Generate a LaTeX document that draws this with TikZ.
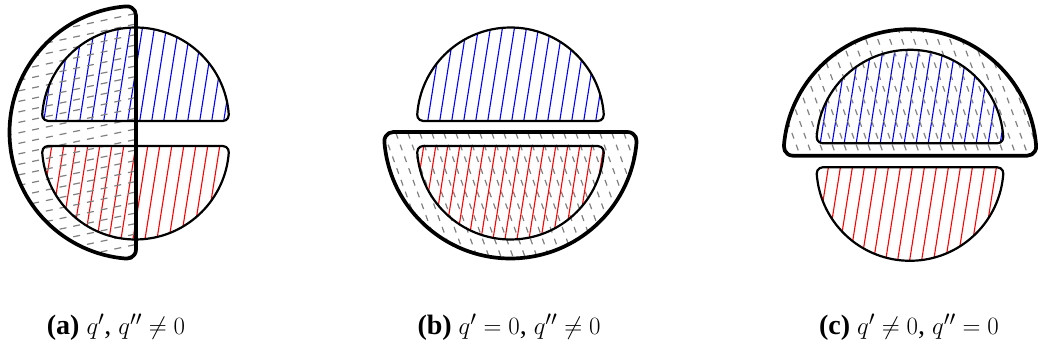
\documentclass[tikz,border=0pt]{standalone}
\usepackage{fontspec}
\setmainfont{Liberation Serif}
\tikzset{
  outlineS/.style={line width=2.2pt, line join=round},
  outlineB/.style={line width=3.7pt, line join=round},
  bluehatch/.style={blue, line width=1.1pt},
  redhatch/.style={red, line width=1.1pt},
  greyhatch/.style={gray, line width=1.2pt, dash pattern=on 6pt off 6.5pt},
  greyhatchH/.style={gray, line width=1.2pt, dash pattern=on 7pt off 7pt},
  caption/.style={anchor=base, inner sep=1pt, font=\fontsize{28}{34}\selectfont},
}
\def\smallhd{(-87.294,0) -- (87.294,0) arc[start angle=-90,end angle=3.932,radius=6] arc[start angle=3.932,end angle=176.068,radius=93.5] arc[start angle=176.068,end angle=270,radius=6] -- cycle}
\def\bighd{(-117.155,0) -- (117.155,0) arc[start angle=-90,end angle=4.393,radius=9] arc[start angle=4.393,end angle=175.607,radius=126.5] arc[start angle=175.607,end angle=270,radius=9] -- cycle}
\newcommand\steeplines[3]{\foreach \i in {#1,...,#2} \draw[#3] (\i*12,-50) -- ++(81:520);}
\newcommand\backlines[3]{\foreach \i in {#1,...,#2} \draw[#3] (\i*12,-50) -- ++(110:520);}
\newcommand\flatlines[3]{\foreach \i in {#1,...,#2} \draw[#3] (-50,\i*10.5) -- ++(12:400);}
\begin{document}
\begin{tikzpicture}[x=1pt,y=1pt]
\useasboundingbox (0,0) rectangle (1038,347);
% ---------- panel (a)
\begin{scope}\clip[shift={(135.5,226)}] \smallhd; \steeplines{-3}{20}{bluehatch}\end{scope}
\begin{scope}\clip[shift={(135.5,201)},rotate=180] \smallhd; \steeplines{-3}{20}{redhatch}\end{scope}
\begin{scope}\clip[shift={(136,214.5)},rotate=90] \bighd; \flatlines{-5}{35}{greyhatchH}\end{scope}
\draw[outlineS, shift={(135.5,226)}] \smallhd;
\draw[outlineS, shift={(135.5,201)},rotate=180] \smallhd;
\draw[outlineB, shift={(136,214.5)},rotate=90] \bighd;
\node[caption] (capa) at (116,12) {\textbf{(a)} $q'$, $q'' \neq 0$};
% ---------- panel (b)
\begin{scope}\clip[shift={(510.5,226)}] \smallhd; \steeplines{25}{52}{bluehatch}\end{scope}
\begin{scope}\clip[shift={(510.5,201)},rotate=180] \smallhd; \steeplines{25}{52}{redhatch}\end{scope}
\begin{scope}\clip[shift={(510.5,215)},rotate=180] \bighd; \backlines{30}{65}{greyhatch}\end{scope}
\draw[outlineS, shift={(510.5,226)}] \smallhd;
\draw[outlineS, shift={(510.5,201)},rotate=180] \smallhd;
\draw[outlineB, shift={(510.5,215)},rotate=180] \bighd;
\node[caption] (capb) at (509,12) {\textbf{(b)} $q' = 0$, $q'' \neq 0$};
% ---------- panel (c)
\begin{scope}\clip[shift={(910,203.7)}] \smallhd; \steeplines{60}{85}{bluehatch}\end{scope}
\begin{scope}\clip[shift={(910,179.7)},rotate=180] \smallhd; \steeplines{60}{85}{redhatch}\end{scope}
\begin{scope}\clip[shift={(910,191.3)}] \bighd; \backlines{62}{98}{greyhatch}\end{scope}
\draw[outlineS, shift={(910,203.7)}] \smallhd;
\draw[outlineS, shift={(910,179.7)},rotate=180] \smallhd;
\draw[outlineB, shift={(910,191.3)}] \bighd;
\node[caption] (capc) at (909,12) {\textbf{(c)} $q' \neq 0$, $q'' = 0$};
\end{tikzpicture}
\end{document}
